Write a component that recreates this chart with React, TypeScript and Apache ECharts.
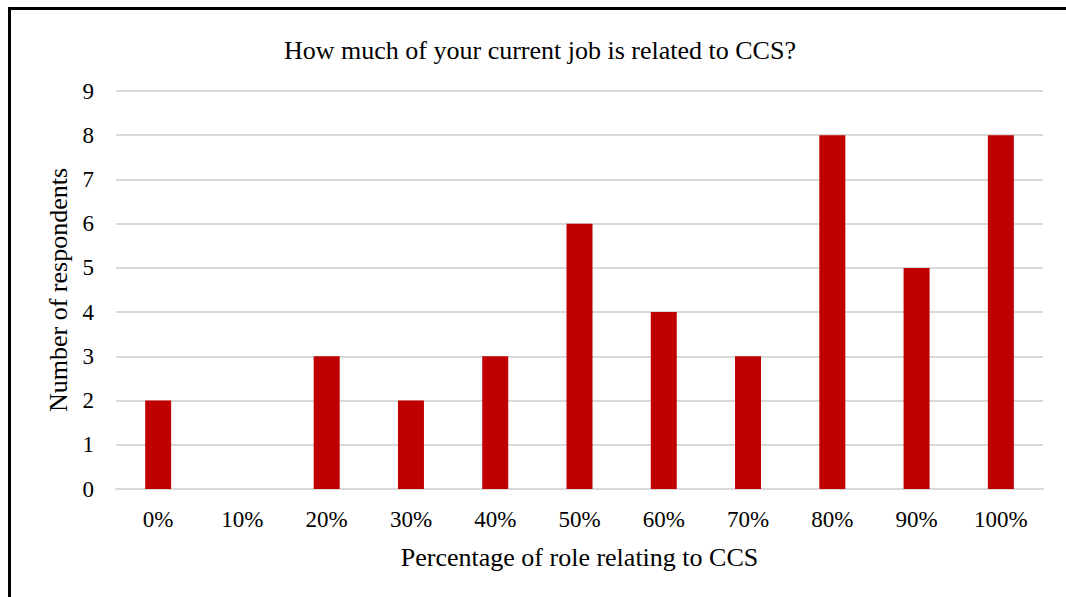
import React, { useEffect, useRef } from "react";
import * as echarts from "echarts";

const categories = ["0%", "10%", "20%", "30%", "40%", "50%", "60%", "70%", "80%", "90%", "100%"];
const respondents = [2, 0, 3, 2, 3, 6, 4, 3, 8, 5, 8];
const titleText = "How much of your current job is related to CCS?";
const xName = "Percentage of role relating to CCS";
const yName = "Number of respondents";

const SERIF = "'Liberation Serif', 'Times New Roman', serif";

export default function App() {
  const ref = useRef<HTMLDivElement>(null);
  useEffect(() => {
    document.body.style.margin = "0";
    const chart = echarts.init(ref.current!, null, { renderer: "svg" });
    chart.setOption({
      animation: false,
      backgroundColor: "#ffffff",
      title: {
        text: titleText,
        left: 279,
        top: 32,
        textStyle: { fontFamily: SERIF, fontSize: 26, fontWeight: "normal", color: "#000" },
      },
      grid: { left: 116, right: 23, top: 91, bottom: 108 },
      xAxis: {
        type: "category",
        data: categories,
        name: xName,
        nameLocation: "middle",
        nameGap: 55,
        nameTextStyle: { fontFamily: SERIF, fontSize: 26, color: "#000" },
        axisLine: { show: true, lineStyle: { color: "#d9d9d9", width: 2 } },
        axisTick: { show: false },
        axisLabel: { fontFamily: SERIF, fontSize: 23, color: "#000", margin: 19 },
      },
      yAxis: {
        type: "value",
        min: 0,
        max: 9,
        interval: 1,
        name: yName,
        nameLocation: "middle",
        nameGap: 43,
        nameRotate: 90,
        nameTextStyle: { fontFamily: SERIF, fontSize: 26, color: "#000" },
        axisLine: { show: false },
        axisTick: { show: false },
        axisLabel: { fontFamily: SERIF, fontSize: 23, color: "#000", margin: 22 },
        splitLine: { lineStyle: { color: "#d9d9d9", width: 2 } },
      },
      series: [
        {
          type: "bar",
          data: respondents,
          barWidth: 26,
          itemStyle: { color: "#c00000" },
        },
      ],
      graphic: [
        { type: "rect", shape: { x: 8, y: 7, width: 3, height: 600 }, style: { fill: "#000" } },
        { type: "rect", shape: { x: 8, y: 7, width: 1070, height: 3 }, style: { fill: "#000" } },
      ],
    });
    return () => chart.dispose();
  }, []);
  return <div ref={ref} style={{ width: 1066, height: 597 }} />;
}
